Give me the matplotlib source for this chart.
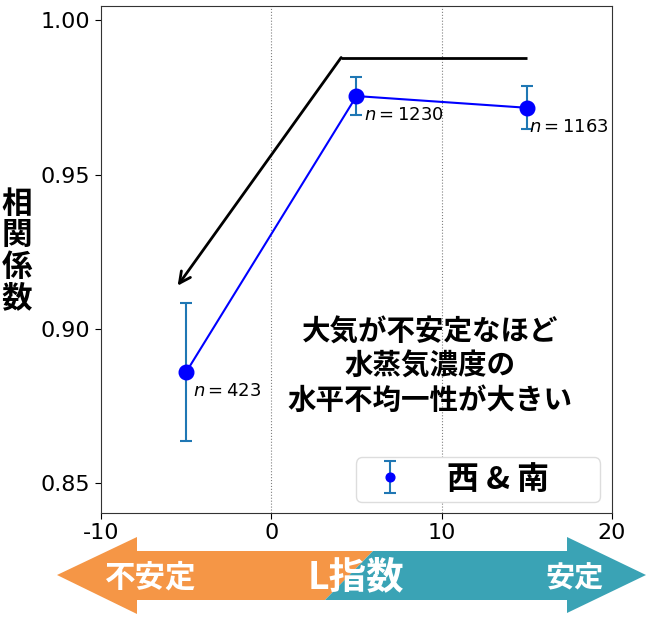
import matplotlib
matplotlib.use('Agg')
import matplotlib.pyplot as plt
from matplotlib.patches import Polygon

plt.rcParams['font.family'] = ['DejaVu Sans', 'Noto Sans CJK JP']
plt.rcParams['axes.unicode_minus'] = False

# ---- data ----
l_index = [-5, 5, 15]
corr = [0.886, 0.9755, 0.9717]
corr_err = [0.0225, 0.0062, 0.0069]
counts = [423, 1230, 1163]
series_label = '西 & 南'
xticks = [-10, 0, 10, 20]
xticklabels = ['-10', '0', '10', '20']
yticks = [0.85, 0.90, 0.95, 1.00]
yticklabels = ['0.85', '0.90', '0.95', '1.00']
trend_x = [15, 4.1, -5.5]
trend_y = [0.988, 0.988, 0.914]
ylabel = '相\n関\n係\n数'
note = '大気が不安定なほど\n水蒸気濃度の\n水平不均一性が大きい'
left_word = '不安定'
mid_word = 'L指数'
right_word = '安定'

# label offsets (pixels) for the n= annotations
n_offsets = [(7, -19), (8, -19), (2, -19)]

JP = ['Noto Sans CJK JP', 'DejaVu Sans']

fig = plt.figure(figsize=(6.49, 6.19), dpi=100)
ax = fig.add_axes([0.1556, 0.1712, 0.7874, 0.8191])

ax.set_xlim(-10, 20)
ax.set_ylim(0.8403, 1.0047)

for v in [0, 10]:
    ax.axvline(v, color='gray', lw=0.8, ls=':', zorder=0)

ax.plot(l_index, corr, color='blue', lw=1.5, zorder=2)
ax.errorbar(l_index, corr, yerr=corr_err, fmt='o', color='blue', ms=10.5,
            ecolor='#1f77b4', elinewidth=1.5, capsize=4.5, capthick=1.5,
            label=series_label, zorder=3)

for xi, yi, n, off in zip(l_index, corr, counts, n_offsets):
    ax.annotate(r'$n = %d$' % n, xy=(xi, yi), xytext=off,
                textcoords='offset pixels', ha='left', va='center',
                fontsize=13)

# trend arrow
ax.plot(trend_x[:2], trend_y[:2], color='black', lw=2, solid_capstyle='butt')
ax.annotate('', xy=(trend_x[2], trend_y[2]), xytext=(trend_x[1], trend_y[1]),
            arrowprops=dict(arrowstyle='->', lw=2, color='black',
                            shrinkA=0, shrinkB=0, mutation_scale=20))

ax.text(9.3, 0.8877, note, ha='center', va='center', multialignment='center',
        fontsize=20.5, fontweight='bold', family=JP, linespacing=1.28)

ax.set_xticks(xticks)
ax.set_xticklabels(xticklabels)
ax.set_yticks(yticks)
ax.set_yticklabels(yticklabels)
ax.tick_params(labelsize=16, length=4)
for s in ax.spines.values():
    s.set_color('#333333')

leg = ax.legend(loc='lower left', bbox_to_anchor=(0.499, 0.0217, 0.4775, 0.083),
                mode='expand', borderaxespad=0, borderpad=0.2, markerscale=0.6,
                prop=dict(family=JP, weight='bold', size=23), handletextpad=0.95,
                handlelength=1.7,
                fancybox=True, framealpha=1, edgecolor='#dddddd')

fig.text(17 / 649, 1 - 251 / 619, ylabel, ha='center', va='center',
         fontsize=22, fontweight='bold', family=JP, linespacing=0.98)

# bottom double arrow (decoration) in pixel coordinates
ov = fig.add_axes([0, 0, 1, 1])
ov.set_xlim(0, 649)
ov.set_ylim(619, 0)
ov.axis('off')
ov.patch.set_visible(False)
orange = '#F59646'
teal = '#3AA3B5'
left_poly = [(57, 575), (137, 537), (137, 551), (373, 551), (325, 600),
             (137, 600), (137, 614)]
right_poly = [(373, 551), (567, 551), (567, 537), (646, 575), (567, 613),
              (567, 600), (325, 600)]
ov.add_patch(Polygon(left_poly, closed=True, facecolor=orange, edgecolor='none'))
ov.add_patch(Polygon(right_poly, closed=True, facecolor=teal, edgecolor='none'))
ov.text(151, 578, left_word, ha='center', va='center', color='white',
        fontsize=22, fontweight='bold', family=JP)
ov.text(356, 577, mid_word, ha='center', va='center', color='white',
        fontsize=27, fontweight='bold', family=JP)
ov.text(575, 578, right_word, ha='center', va='center', color='white',
        fontsize=21, fontweight='bold', family=JP)

fig.savefig('out.png', dpi=100)
